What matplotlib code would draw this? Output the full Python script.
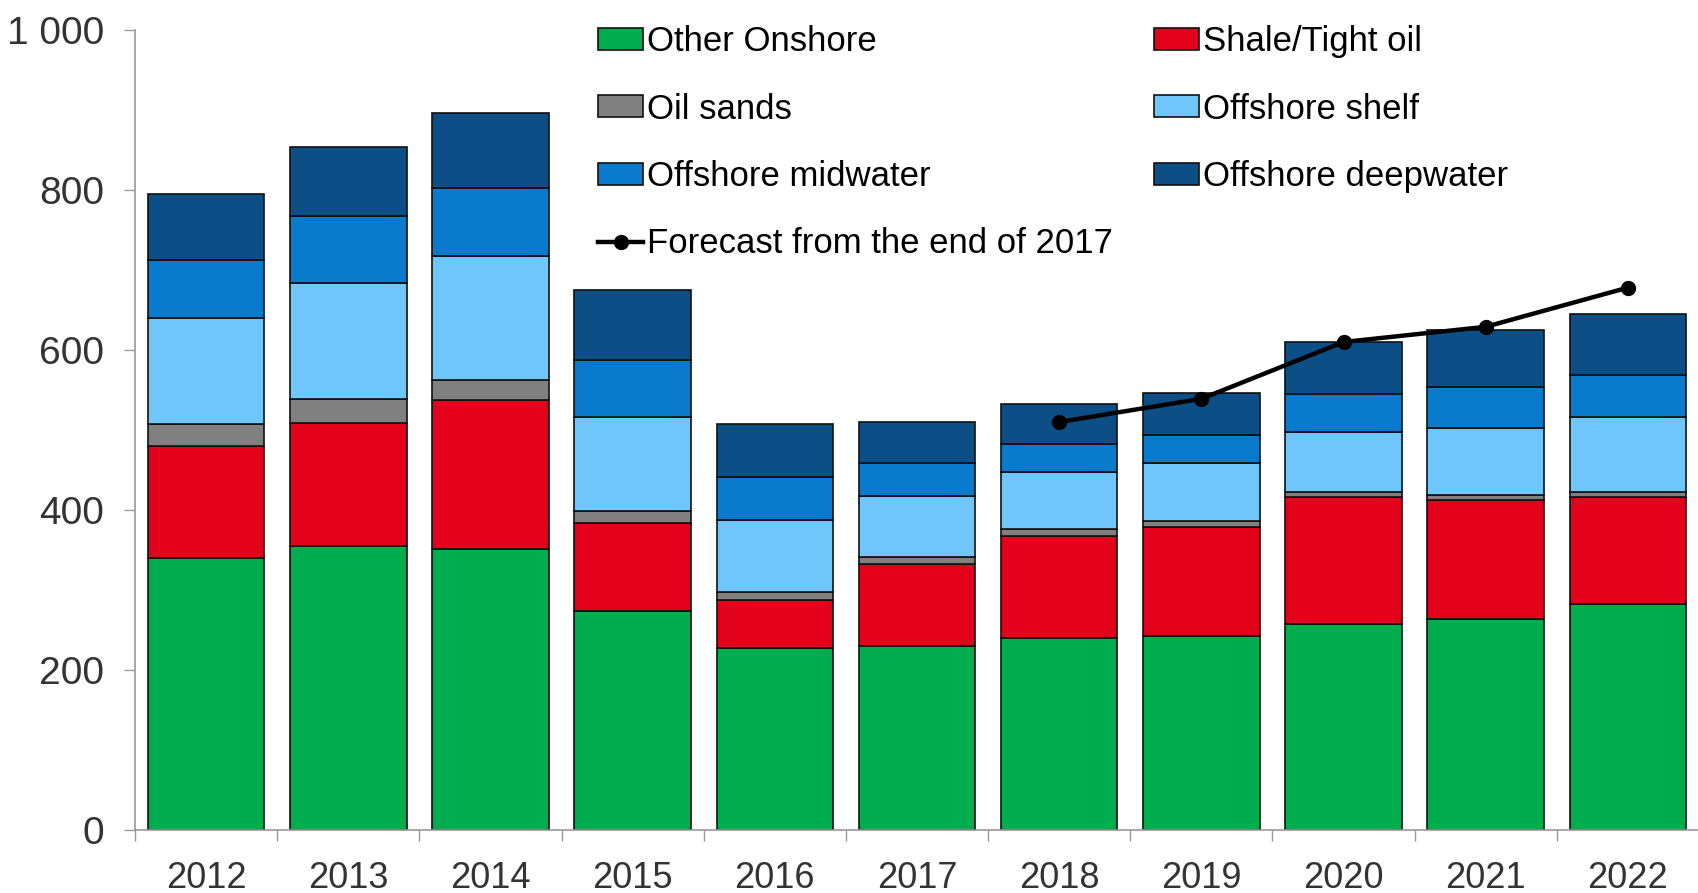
#!/usr/bin/env python3

import numpy as np
import matplotlib
matplotlib.use('Agg')
from matplotlib import pyplot as plt

# values
years = ['2012', '2013', '2014', '2015', '2016', '2017', '2018', '2019', '2020', '2021', '2022']
other_onshore = [340, 355, 351, 274, 227, 230, 240, 242, 257, 264, 282]
shale_tight = [140, 154, 186, 110, 61, 102, 127, 137, 159, 149, 134]
oil_sands = [27, 30, 26, 15, 9, 9, 9, 7, 7, 6, 7]
offshore_shelf = [133, 145, 155, 117, 91, 77, 72, 73, 75, 84, 93]
offshore_mid = [73, 83, 85, 72, 53, 41, 34, 35, 47, 51, 53]
offshore_deep = [82, 87, 93, 87, 66, 51, 50, 52, 65, 71, 76]

forecast_years = ['2018', '2019', '2020', '2021', '2022']
forecast = [510, 539, 610, 629, 678]

yticks = [0, 200, 400, 600, 800, 1000]
ytick_labels = ['0', '200', '400', '600', '800', '1 000']

series = [
    ('Other Onshore', other_onshore, '#00AD4E'),
    ('Shale/Tight oil', shale_tight, '#E3001B'),
    ('Oil sands', oil_sands, '#808080'),
    ('Offshore shelf', offshore_shelf, '#6EC6FA'),
    ('Offshore midwater', offshore_mid, '#0A7ACC'),
    ('Offshore deepwater', offshore_deep, '#0B4F86'),
]

plt.rcParams['font.family'] = ['Liberation Sans', 'DejaVu Sans']

fig = plt.figure(figsize=(16.99, 8.93), dpi=100)
ax = fig.add_axes([135 / 1699, 1 - 830 / 893, 1 - 135 / 1699, (830 - 30) / 893])

x = np.arange(len(years))
bottom = np.zeros(len(years))
handles = {}
for name, vals, col in series:
    b = ax.bar(x, vals, width=0.82, bottom=bottom, color=col, edgecolor='#111111',
               linewidth=1.2, label=name, zorder=2)
    handles[name] = b
    bottom += np.array(vals)

fx = [years.index(y) for y in forecast_years]
line, = ax.plot(fx, forecast, color='black', linewidth=3.2, marker='o', markersize=10,
                label='Forecast from the end of 2017', zorder=3)

ax.set_xlim(-0.5, 10.5)
ax.set_ylim(0, 1000)

ax.set_yticks(yticks)
ax.set_yticklabels(ytick_labels)
ax.set_xticks(x)
ax.set_xticklabels(years)
ax.set_xticks(np.arange(-0.5, len(years), 1.0), minor=True)
ax.tick_params(axis='x', which='major', length=0, pad=22, labelsize=26, labelcolor='#333333')
ax.tick_params(axis='x', which='minor', length=8, width=1, color='#999999', direction='out')
ax.tick_params(axis='y', length=8, width=1, color='#999999', pad=14, labelsize=28,
               labelcolor='#333333')

for s in ['top', 'right']:
    ax.spines[s].set_visible(False)
for s in ['left', 'bottom']:
    ax.spines[s].set_color('#999999')
    ax.spines[s].set_linewidth(1.2)

order = ['Other Onshore', 'Oil sands', 'Offshore midwater', None,
         'Shale/Tight oil', 'Offshore shelf', 'Offshore deepwater']
hl, ll = [], []
for n in order:
    if n is None:
        hl.append(line)
        ll.append('Forecast from the end of 2017')
    else:
        hl.append(handles[n])
        ll.append(n)

leg = ax.legend(hl, ll, ncol=2, loc='upper left', bbox_to_anchor=(0.296, 1.006),
                frameon=False, fontsize=25, handlelength=1.3, handleheight=0.6,
                handletextpad=0.1, labelspacing=0.99, columnspacing=1.2,
                borderaxespad=0, borderpad=0)

fig.savefig('out.png', dpi=100)
